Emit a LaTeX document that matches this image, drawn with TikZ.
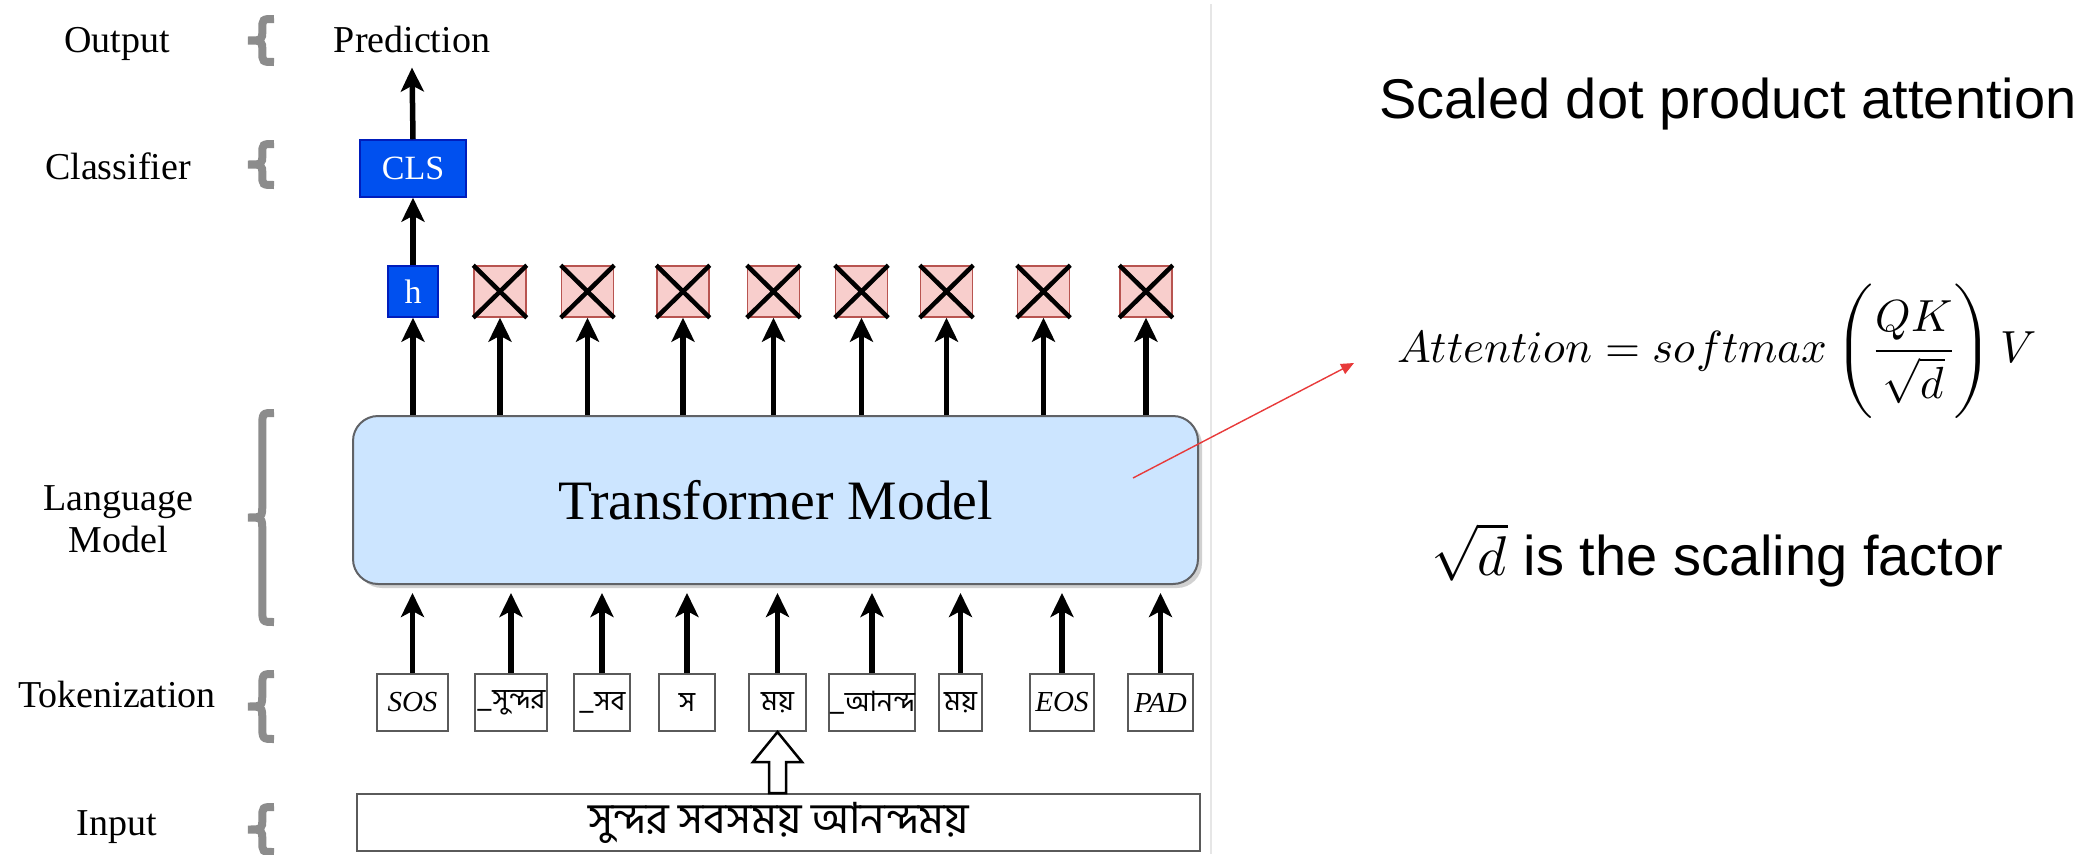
\documentclass[tikz,border=0pt]{standalone}
\usepackage{amsmath}
\usepackage{fontspec}
\usepackage{unicode-math}
\setmainfont{Liberation Serif}
\newfontfamily\sansf{Liberation Sans}
\newfontfamily\bnf[Script=Bengali]{Hind Siliguri}
\usetikzlibrary{arrows.meta,calc}
\definecolor{bluefill}{HTML}{0050EF}
\definecolor{bluedraw}{HTML}{001DBC}
\definecolor{pinkfill}{HTML}{F8CECC}
\definecolor{pinkdraw}{HTML}{B85450}
\definecolor{tfill}{HTML}{CCE5FF}
\definecolor{tdraw}{HTML}{606266}
\definecolor{bracegray}{HTML}{8C8C8C}
\definecolor{tokdraw}{HTML}{5A5A5A}
\definecolor{sepgray}{HTML}{E6E6E6}
\definecolor{redarrow}{HTML}{E83A3A}
\tikzset{
  lbl/.style={font=\fontsize{38}{42}\selectfont, anchor=base, inner sep=0pt},
  bluebox/.style={fill=bluefill, draw=bluedraw, line width=1.5pt, text=white, inner sep=0pt, font=\fontsize{34}{36}\selectfont},
  xbox/.style={fill=pinkfill, draw=pinkdraw, line width=1.5pt, minimum width=52pt, minimum height=51pt, inner sep=0pt},
  crossline/.style={line width=4.5pt},
  tokbox/.style={draw=tokdraw, line width=2pt, fill=white, minimum height=57pt, inner sep=0pt},
  toklat/.style={font=\itshape\fontsize{29}{32}\selectfont},
  tokbn/.style={font=\bnf\fontsize{28}{30}\selectfont},
  arr/.style={line width=5.5pt, -{Stealth[length=24pt,width=23pt,inset=6pt]}},
  hollowarr/.style={line width=2.5pt, draw=black, fill=white, line join=miter},
  bracepath/.style={draw=bracegray, line width=8pt},
  rtext/.style={anchor=base west, inner sep=0pt, font=\sansf\fontsize{56}{60}\selectfont},
}
\newcommand\graybrace[4]{%
  \pgfmathsetmacro\bxv{#1+0.55*(#2-#1)}%
  \pgfmathsetmacro\bym{(#3+#4)/2}%
  \pgfmathsetmacro\bh{min(14,0.25*(#4-#3))}%
  \draw[bracepath] (#2,#3) .. controls (\bxv,#3) .. (\bxv,#3+\bh) -- (\bxv,\bym-\bh) .. controls (\bxv,\bym) .. (#1,\bym) .. controls (\bxv,\bym) .. (\bxv,\bym+\bh) -- (\bxv,#4-\bh) .. controls (\bxv,#4) .. (#2,#4);
}
\begin{document}
\begin{tikzpicture}[x=1pt,y=-1pt]
\fill[white] (0,0) rectangle (2095,854);
\useasboundingbox (0,0) rectangle (2095,854);

% separator
\coordinate (sepA) at (1211,4);
\coordinate (sepB) at (1211,854);
\draw[sepgray, line width=1.5pt] (sepA) -- (sepB);

% left labels
\node[lbl] (lout) at (117,52) {Output};
\node[lbl] (lcls) at (118,179) {Classifier};
\node[lbl] (llm1) at (118,510) {Language};
\node[lbl] (llm2) at (118,552) {Model};
\node[lbl] (ltok) at (117,707) {Tokenization};
\node[lbl] (linp) at (117,835) {Input};

% braces
\graybrace{248}{274}{19}{62}
\graybrace{248}{274}{144}{185}
\graybrace{248}{274}{413}{622}
\graybrace{248}{274}{674}{739}
\graybrace{248}{274}{807}{852}

% top part
\node[lbl] (pred) at (412,52) {Prediction};
\node[bluebox, minimum width=106pt, minimum height=57pt] (cls) at (413,168.5) {CLS};
\node[bluebox, minimum width=50pt, minimum height=51pt] (h) at (413,291.5) {h};
\foreach \x [count=\i] in {500,587.5,683,773.5,861.5,946.5,1043.5,1146} {
  \node[xbox] (x\i) at (\x,291.5) {};
  \draw[crossline] (x\i.north west) -- (x\i.south east) (x\i.north east) -- (x\i.south west);
}

% transformer
\fill[black, opacity=0.18, rounded corners=25pt] (357,420) rectangle (1202,588);
\node[draw=tdraw, fill=tfill, rounded corners=25pt, minimum width=845pt, minimum height=168pt, line width=2pt, font=\fontsize{55.6}{60}\selectfont] (tm) at (775.5,500) {Transformer Model};

\draw[arr] (cls.north) -- ([yshift=-15pt]pred.south);
\draw[arr] (h.north) -- (cls.south);
\draw[arr] (tm.north -| h) -- (h.south);
\foreach \i in {1,...,8} {
  \draw[arr] (tm.north -| x\i) -- (x\i.south);
}

% tokens
\node[tokbox, minimum width=71pt, toklat] (t1) at (412.5,702.5) {SOS};
\node[tokbox, minimum width=72pt, tokbn] (t2) at (511,702.5) {\_সুন্দর};
\node[tokbox, minimum width=56pt, tokbn] (t3) at (602,702.5) {\_সব};
\node[tokbox, minimum width=56pt, tokbn] (t4) at (687,702.5) {স};
\node[tokbox, minimum width=57pt, tokbn] (t5) at (777.5,702.5) {ময়};
\node[tokbox, minimum width=78pt, tokbn] (t6) at (872,702.5) {\_আনন্দ};
\node[tokbox, minimum width=43pt, tokbn] (t7) at (960.5,702.5) {ময়};
\node[tokbox, minimum width=64pt, toklat] (t8) at (1062,702.5) {EOS};
\node[tokbox, minimum width=65pt, toklat] (t9) at (1160.5,702.5) {PAD};
\foreach \i in {1,...,9} {
  \draw[arr, shorten >=8pt] (t\i.north) -- (t\i.north |- tm.south);
}

% input
\node[tokbox, minimum width=843pt, minimum height=57pt, font=\bnf\fontsize{43}{47}\selectfont] (inp) at (778.5,822.5) {সুন্দর সবসময় আনন্দময়};
\draw[hollowarr] let \p1=(t5.south), \p2=(inp.north) in
  (\x1,\y1) -- (\x1+24.5pt,\y1-30pt) -- (\x1+8.5pt,\y1-30pt) -- (\x1+8.5pt,\y2) -- (\x1-8.5pt,\y2) -- (\x1-8.5pt,\y1-30pt) -- (\x1-24.5pt,\y1-30pt) -- cycle;

% right side
\node[rtext] (sdpa) at (1379,118) {Scaled dot product attention};
\node[anchor=base west, inner sep=0pt, font=\fontsize{45}{48}\selectfont] (eq) at (1397,362) {$Attention = softmax\left(\rule[-50pt]{0pt}{124pt}\dfrac{QK}{\sqrt{d}}\right)V$};
\node[rtext] (scal) at (1431,575) {$\sqrt{d}$ is the scaling factor};

\coordinate (rs) at (1133,478);
\coordinate (re) at (1354,363);
\draw[redarrow, line width=1.4pt, -{Triangle[length=13pt,width=11pt]}] (rs) -- (re);
\end{tikzpicture}
\end{document}
